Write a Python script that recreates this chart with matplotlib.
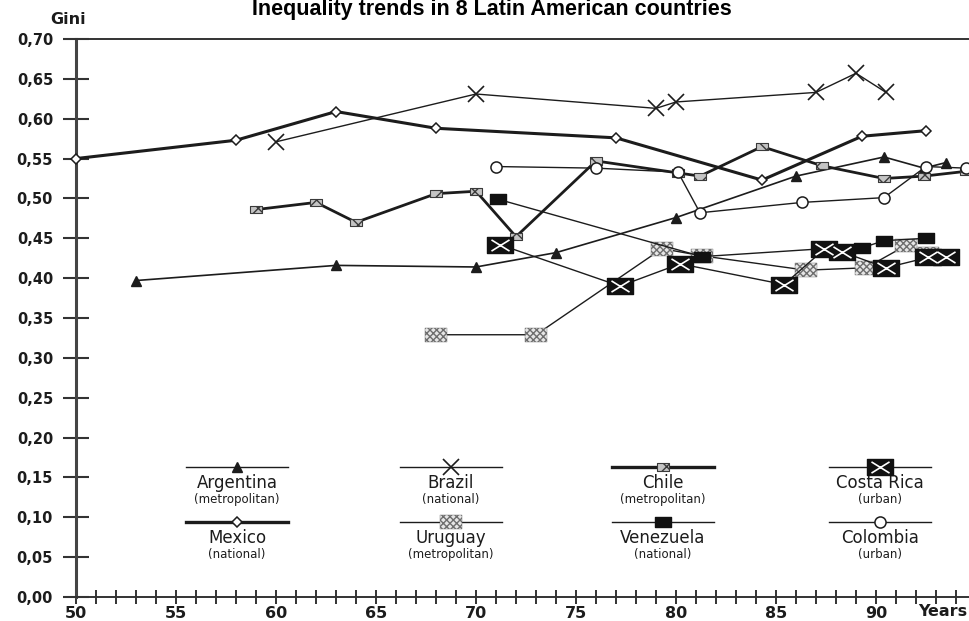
import numpy as np
import matplotlib
matplotlib.use('Agg')
import matplotlib.pyplot as plt
from matplotlib.path import Path
from matplotlib.ticker import MultipleLocator, FixedLocator, FuncFormatter

# Gini values (year = 19xx)
argentina_years = [53, 63, 70, 74, 80, 86, 90.4, 92.4, 93.5]
argentina_gini = [0.397, 0.416, 0.414, 0.432, 0.476, 0.528, 0.552, 0.538, 0.545]

brazil_years = [60, 70, 79, 80, 87, 89, 90.5]
brazil_gini = [0.571, 0.631, 0.613, 0.621, 0.633, 0.657, 0.633]

chile_years = [59, 62, 64, 68, 70, 72, 76, 80.1, 81.2, 84.3, 87.3, 90.4, 92.4, 94.5]
chile_gini = [0.486, 0.495, 0.470, 0.506, 0.509, 0.452, 0.547, 0.532, 0.528,
              0.565, 0.541, 0.525, 0.528, 0.534]

costa_rica_years = [71.2, 77.2, 80.2, 85.4, 87.4, 88.3, 90.5, 92.6, 93.5]
costa_rica_gini = [0.442, 0.390, 0.418, 0.392, 0.436, 0.433, 0.413, 0.426, 0.426]

mexico_years = [50, 58, 63, 68, 77, 84.3, 89.3, 92.5]
mexico_gini = [0.550, 0.573, 0.609, 0.588, 0.576, 0.523, 0.578, 0.585]

uruguay_years = [68, 73, 79.3, 81.3, 86.5, 89.5, 91.5, 92.6]
uruguay_gini = [0.329, 0.329, 0.437, 0.428, 0.410, 0.413, 0.441, 0.430]

venezuela_years = [71.1, 81.3, 87.4, 89.3, 90.4, 92.5]
venezuela_gini = [0.499, 0.427, 0.437, 0.438, 0.447, 0.450]

colombia_years = [71, 76, 80.1, 81.2, 86.3, 90.4, 92.5, 94.5]
colombia_gini = [0.540, 0.538, 0.533, 0.482, 0.495, 0.501, 0.540, 0.538]

legend_names = ['Argentina', 'Brazil', 'Chile', 'Costa Rica',
                'Mexico', 'Uruguay', 'Venezuela', 'Colombia']
legend_notes = ['(metropolitan)', '(national)', '(metropolitan)', '(urban)',
                '(national)', '(metropolitan)', '(national)', '(urban)']

plt.rcParams['font.family'] = ['DejaVu Sans']
INK = '#1c1c1c'

# marker shapes
rect = Path([(-1, -0.62), (1, -0.62), (1, 0.62), (-1, 0.62), (-1, -0.62)],
            [Path.MOVETO, Path.LINETO, Path.LINETO, Path.LINETO, Path.CLOSEPOLY])
cross = Path([(-1, -0.62), (1, 0.62), (-1, 0.62), (1, -0.62)],
             [Path.MOVETO, Path.LINETO, Path.MOVETO, Path.LINETO])

fig = plt.figure(figsize=(9.7, 6.21), dpi=100)
ax = fig.add_axes([76 / 970, 1 - 597 / 621, 1 - 76 / 970, (597 - 39) / 621])
ax.set_xlim(50, 94.7)
ax.set_ylim(0, 0.70)


def draw_argentina(x, y, lw=1.2, ms=7):
    ax.plot(x, y, color=INK, lw=lw, marker='^', ms=ms, mfc=INK, mec=INK, zorder=3,
            clip_on=False)


def draw_brazil(x, y, lw=1.0):
    ax.plot(x, y, color=INK, lw=lw, marker='x', ms=11, mew=1.2, zorder=3, clip_on=False)


def draw_chile(x, y, lw=2.0):
    ax.plot(x, y, color=INK, lw=lw, zorder=3, clip_on=False)
    ax.scatter(x, y, marker=rect, s=70, facecolors='#c4c4c4', edgecolors='#3a3a3a',
               linewidths=0.8, hatch='xx', zorder=4, clip_on=False)


def draw_costa_rica(x, y, lw=1.0):
    ax.plot(x, y, color=INK, lw=lw, marker=rect, ms=19, mfc='#111111', mec='#111111',
            zorder=5, clip_on=False)
    ax.plot(x, y, ls='none', marker=cross, ms=13, mec='white', mew=1.2, zorder=6,
            clip_on=False)


def draw_mexico(x, y, lw=2.2):
    ax.plot(x, y, color=INK, lw=lw, marker='D', ms=5, mfc='white', mec=INK, mew=1.1,
            zorder=3, clip_on=False)


def draw_uruguay(x, y, lw=1.0):
    ax.plot(x, y, color=INK, lw=lw, zorder=3, clip_on=False)
    ax.scatter(x, y, marker=rect, s=260, facecolors='#e6e6e6', edgecolors='#6e6e6e',
               linewidths=0.3, hatch='xxxxx', zorder=4, clip_on=False)


def draw_venezuela(x, y, lw=1.0):
    ax.plot(x, y, color=INK, lw=lw, marker=rect, ms=11, mfc='#111111', mec='#111111',
            zorder=4, clip_on=False)


def draw_colombia(x, y, lw=1.0):
    ax.plot(x, y, color=INK, lw=lw, marker='o', ms=8, mfc='white', mec=INK, mew=1.1,
            zorder=4, clip_on=False)


draw_argentina(argentina_years, argentina_gini)
draw_brazil(brazil_years, brazil_gini)
draw_chile(chile_years, chile_gini)
draw_mexico(mexico_years, mexico_gini)
draw_uruguay(uruguay_years, uruguay_gini)
draw_venezuela(venezuela_years, venezuela_gini)
draw_costa_rica(costa_rica_years, costa_rica_gini)
draw_colombia(colombia_years, colombia_gini)

# hand-made legend, two rows of four entries
drawers = [draw_argentina, draw_brazil, draw_chile, draw_costa_rica,
           draw_mexico, draw_uruguay, draw_venezuela, draw_colombia]
col_x = [58.05, 68.75, 79.35, 90.2]
row_y = [0.163, 0.094]
half = 2.55
for i, (name, note, draw) in enumerate(zip(legend_names, legend_notes, drawers)):
    cx = col_x[i % 4]
    ly = row_y[i // 4]
    ax.plot([cx - half, cx + half], [ly, ly], color=INK,
            lw=2.4 if name in ('Chile', 'Mexico') else 1.0, zorder=3)
    draw([cx], [ly])
    ax.text(cx, ly - 0.0195, name, ha='center', va='center', fontsize=12, color=INK)
    ax.text(cx, ly - 0.0405, note, ha='center', va='center', fontsize=8.5, color=INK)

# axes look
ax.spines['right'].set_visible(False)
ax.spines['top'].set_linewidth(1.4)
ax.spines['top'].set_color('#333333')
ax.spines['left'].set_linewidth(2.2)
ax.spines['left'].set_color('#444444')
ax.spines['bottom'].set_linewidth(1.4)
ax.spines['bottom'].set_color('#333333')

ax.yaxis.set_major_locator(MultipleLocator(0.05))
ax.yaxis.set_major_formatter(FuncFormatter(lambda v, p: f'{v:.2f}'.replace('.', ',')))
ax.tick_params(axis='y', direction='inout', length=19, width=1.5, color='#333333',
               pad=7, labelsize=10.5, labelcolor=INK)
for lab in ax.get_yticklabels():
    lab.set_fontweight('bold')

ax.xaxis.set_major_locator(FixedLocator(range(50, 95, 5)))
ax.xaxis.set_minor_locator(MultipleLocator(1))
ax.tick_params(axis='x', which='both', direction='inout', length=9.5, width=1.4,
               color='#333333')
ax.tick_params(axis='x', which='major', pad=1.5, labelsize=11.5, labelcolor=INK)
for lab in ax.get_xticklabels():
    lab.set_fontweight('bold')

fig.text(918 / 970, 1 - 612 / 621, 'Years', ha='left', va='center', fontsize=11.5,
         fontweight='bold', color=INK)
fig.text(50 / 970, 1 - 20 / 621, 'Gini', ha='left', va='center', fontsize=11.5,
         fontweight='bold', color=INK)
fig.text(492 / 970, 1 - 15 / 621, 'Inequality trends in 8 Latin American countries',
         ha='center', va='baseline', fontsize=15.5, fontweight='bold',
         family=['Liberation Sans', 'DejaVu Sans'], color='black')

fig.savefig('out.png', dpi=100)
